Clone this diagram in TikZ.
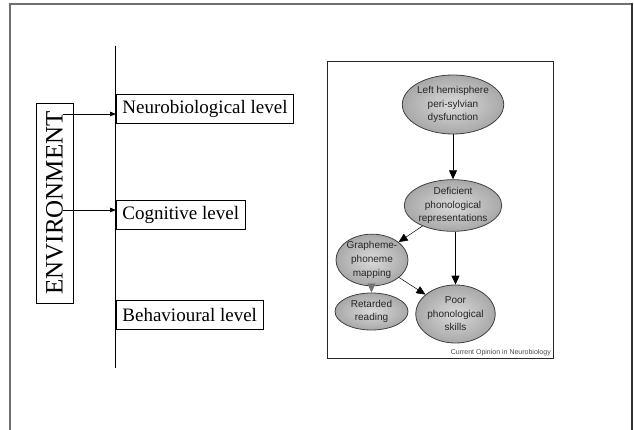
\documentclass[tikz,border=0pt]{standalone}
\usepackage{fontspec}
\setmainfont{Liberation Serif}
\newfontfamily\armfont{Liberation Sans}
\usetikzlibrary{shapes.geometric,arrows.meta}
\definecolor{framegray}{HTML}{707070}
\definecolor{ballin}{HTML}{DADADA}
\definecolor{ballout}{HTML}{A8A8A8}
\definecolor{balltext}{HTML}{262626}
\tikzset{
  levelbox/.style={draw, line width=0.9pt, anchor=west, inner xsep=6pt,
    minimum height=29pt, font=\fontsize{19}{22}\selectfont},
  envarrow/.style={line width=0.8pt, -{Triangle[length=6pt,width=4.5pt]}},
  ball/.style={ellipse, draw=black!75, line width=0.8pt, inner sep=0pt,
    shading=radial, inner color=ballin, outer color=ballout,
    align=center, text=balltext,
    font=\armfont\fontsize{10}{13.6}\selectfont},
  causal/.style={line width=0.8pt, -{Triangle[length=9pt,width=8pt]}},
  thincausal/.style={line width=0.5pt, -{Triangle[length=9pt,width=8pt]}},
}
\begin{document}
\begin{tikzpicture}[x=1pt,y=-1pt]
\useasboundingbox (0,0) rectangle (634,430);

% page frame
\draw[framegray, line width=2pt] (10,430) -- (10,4) -- (632,4);
\draw[black!80, line width=2pt] (632,3) -- (632,430);

% levels axis
\coordinate (axtop) at (115.7,46);
\coordinate (axbot) at (115.7,368);
\draw[line width=0.9pt] (axtop) -- (axbot);

\node[draw, line width=0.9pt, rotate=90, minimum width=200pt, minimum height=37pt,
      inner sep=0pt, font=\fontsize{25}{28}\selectfont] (env) at (54.5,203) {ENVIRONMENT};

\node[levelbox] (neuro) at (116,109) {Neurobiological level};
\node[levelbox] (cog) at (116,214.5) {Cognitive level};
\node[levelbox] (beh) at (116,315) {Behavioural level};

\coordinate (e1) at (63,114);
\coordinate (e2) at (63,210);
\draw[envarrow] (e1) -- (e1 -| neuro.west);
\draw[envarrow] (e2) -- (e2 -| cog.west);

% causal model panel
\node[draw=black!85, line width=1pt, minimum width=226pt, minimum height=296pt,
      inner sep=0pt] (panel) at (440,210) {};

\node[ball, minimum width=82pt, minimum height=59pt] (lh) at (453,104.5)
  {Left hemisphere\\peri-sylvian\\dysfunction};
\node[ball, minimum width=80pt, minimum height=46pt] (dpr) at (453,205.5)
  {Deficient\\phonological\\representations};
\node[ball, minimum width=72pt, minimum height=50pt] (gpm) at (372,260)
  {Grapheme-\\phoneme\\mapping};
\node[ball, minimum width=73pt, minimum height=37pt] (rr) at (371.5,311.5)
  {Retarded\\reading};
\node[ball, minimum width=59pt, minimum height=58pt] (pps) at (455.5,314)
  {Poor\\phonological\\skills};

\draw[causal] (lh.south) -- (dpr.north);
\draw[thincausal] (dpr) -- (gpm);
\draw[causal] (dpr.south -| pps.north) -- (pps.north);
\draw[thincausal, black!55] (gpm.south -| rr.north) -- (rr.north);
\draw[thincausal] (gpm) -- (pps);

\node[anchor=base east, inner sep=0pt, text=black!70,
      font=\armfont\fontsize{7}{8}\selectfont] (credit) at (551,354)
  {Current Opinion in Neurobiology};
\end{tikzpicture}
\end{document}
